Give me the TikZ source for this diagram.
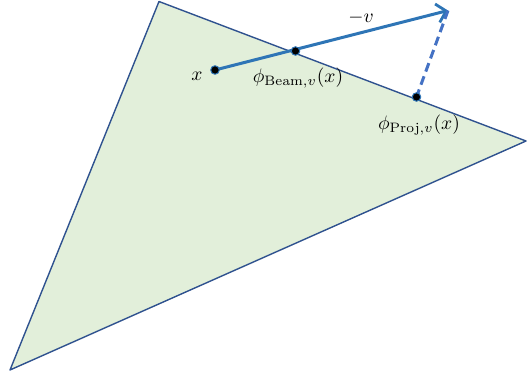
\documentclass[tikz,border=0pt]{standalone}
\usepackage{tikz}
\usepackage{amsmath}
\usetikzlibrary{arrows.meta,positioning,backgrounds,calc}
\definecolor{regionfill}{RGB}{226,239,218}
\definecolor{regionedge}{RGB}{47,82,143}
\definecolor{beamblue}{RGB}{46,117,182}
\definecolor{projblue}{RGB}{68,114,196}
\newcommand{\biglbl}[1]{\scalebox{1.95}{$#1$}}

\begin{document}
\begin{tikzpicture}[x=1pt,y=-1pt,
  dot/.style={circle,fill=black,draw=beamblue,line width=1pt,inner sep=0pt,minimum size=8.5pt},
  lbl/.style={font=\normalsize,inner sep=1pt}]
  \useasboundingbox (0,0) rectangle (527,377);
  \coordinate (top)   at (159,1.5);
  \coordinate (right) at (526,141);
  \coordinate (bot)   at (10,370);
  \coordinate (tip)   at (448,10.5);
  % points on the region
  \node[dot] (x)    at (215,70)   {};
  \node[dot] (beam) at (295.5,51) {};
  \node[dot] (proj) at (416.5,97) {};
  \begin{scope}[on background layer]
    \draw[fill=regionfill,draw=regionedge,line width=1.4pt,line join=round]
      (top) -- (right) -- (bot) -- cycle;
    \draw[beamblue,line width=3pt,-{Straight Barb[length=9pt,width=19pt,line width=2.8pt]}]
      (x.center) -- (tip);
    \draw[projblue,line width=3pt,dash pattern=on 9pt off 5pt] (tip) -- (proj.center);
  \end{scope}
  \node[lbl] (xlbl)    at (197,76)  {\biglbl{x}};
  \node[lbl] (vlbl)    at (361,18)  {\biglbl{-v}};
  \node[lbl] (beamlbl) at (298,78)  {\biglbl{\phi_{\mathrm{Beam},v}(x)}};
  \node[lbl] (projlbl) at (419,125) {\biglbl{\phi_{\mathrm{Proj},v}(x)}};
\end{tikzpicture}
\end{document}
